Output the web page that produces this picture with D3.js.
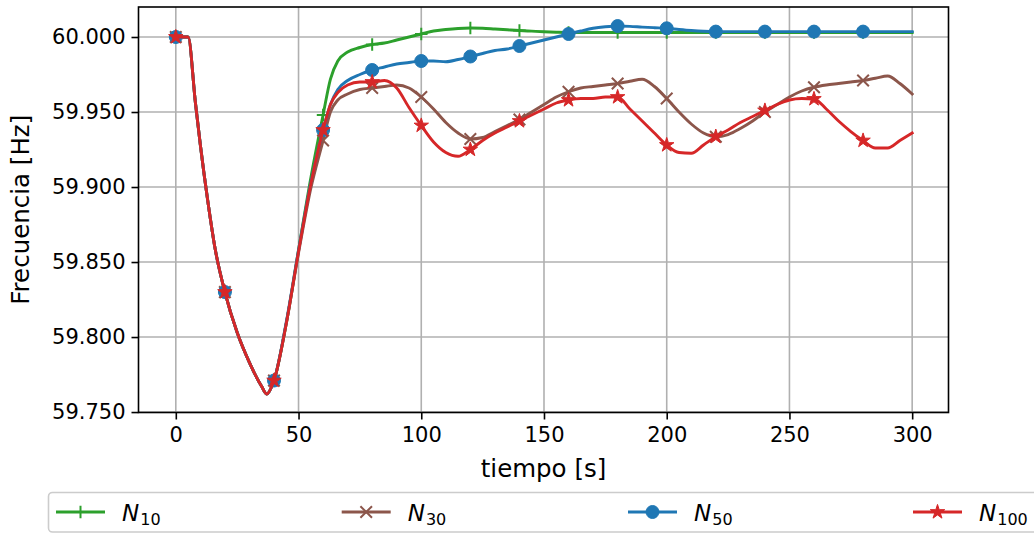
<!DOCTYPE html>
<html>
<head>
<meta charset="utf-8">
<script src="https://cdn.jsdelivr.net/npm/d3@7"></script>
<style>
  body { margin: 0; background: #fff; }
  svg { display: block; }
  text { font-family: "DejaVu Sans", sans-serif; fill: #000; }
</style>
</head>
<body>
<svg id="chart" width="1034" height="533"></svg>
<script>
// Time axis shared by every series (s)
const tiempo = [0, 5, 8, 10, 13, 16, 20, 25, 30, 35, 37, 40, 45, 50, 55,
  60, 63, 66, 70, 75, 80, 85, 90, 95, 100, 105, 110, 115, 120, 125, 130, 135,
  140, 145, 150, 155, 160, 165, 170, 175, 180, 185, 190, 195, 200, 205, 210,
  215, 220, 225, 230, 235, 240, 245, 250, 255, 260, 265, 270, 275, 280, 285,
  290, 295, 300];

// Frequency (Hz) for each case
const n10 = [60.000, 60.000, 59.956, 59.928, 59.891, 59.859, 59.830, 59.803, 59.783, 59.767, 59.762, 59.771, 59.809, 59.858, 59.906,
  59.948, 59.972, 59.984, 59.990, 59.993, 59.995, 59.996, 59.998, 60.000, 60.002, 60.004, 60.005, 60.0057, 60.006, 60.0058, 60.0053, 60.0048,
  60.0043, 60.0039, 60.0035, 60.0032, 60.0030, 60.0030, 60.0030, 60.0030, 60.0030, 60.0030, 60.0030, 60.0030, 60.0030, 60.0030, 60.0030,
  60.0030, 60.0030, 60.0030, 60.0030, 60.0030, 60.0030, 60.0030, 60.0030, 60.0030, 60.0030, 60.0030, 60.0030, 60.0030, 60.0030, 60.0030,
  60.0030, 60.0030, 60.0030];

const n30 = [60.000, 60.000, 59.956, 59.928, 59.891, 59.859, 59.830, 59.803, 59.783, 59.767, 59.762, 59.771, 59.809, 59.856, 59.899,
  59.931, 59.950, 59.958, 59.962, 59.965, 59.966, 59.967, 59.968, 59.966, 59.960, 59.952, 59.943, 59.936, 59.932, 59.933, 59.937, 59.941,
  59.945, 59.950, 59.955, 59.960, 59.9635, 59.966, 59.967, 59.968, 59.969, 59.9705, 59.9718, 59.967, 59.959, 59.950, 59.942,
  59.936, 59.9335, 59.935, 59.939, 59.944, 59.950, 59.955, 59.960, 59.964, 59.9665, 59.968, 59.969, 59.970, 59.971, 59.9725,
  59.974, 59.969, 59.962];

const n50 = [60.000, 60.000, 59.956, 59.928, 59.891, 59.859, 59.830, 59.803, 59.783, 59.767, 59.762, 59.771, 59.810, 59.858, 59.903,
  59.938, 59.955, 59.965, 59.971, 59.975, 59.978, 59.980, 59.982, 59.983, 59.984, 59.984, 59.9835, 59.985, 59.987, 59.989, 59.991, 59.992,
  59.994, 59.996, 59.998, 60.000, 60.002, 60.004, 60.0058, 60.0068, 60.0073, 60.0071, 60.0066, 60.0062, 60.0058, 60.0050, 60.0043,
  60.0038, 60.0036, 60.0036, 60.0036, 60.0036, 60.0036, 60.0036, 60.0036, 60.0036, 60.0036, 60.0036, 60.0036, 60.0036, 60.0036, 60.0036,
  60.0036, 60.0036, 60.0036];

const n100 = [60.000, 60.000, 59.956, 59.928, 59.891, 59.859, 59.830, 59.803, 59.783, 59.767, 59.762, 59.771, 59.809, 59.857, 59.902,
  59.938, 59.955, 59.963, 59.968, 59.970, 59.970, 59.971, 59.966, 59.953, 59.941, 59.930, 59.923, 59.9205, 59.925, 59.931, 59.936, 59.940,
  59.944, 59.948, 59.952, 59.956, 59.958, 59.959, 59.959, 59.960, 59.960, 59.952, 59.944, 59.936, 59.928, 59.923, 59.9225,
  59.928, 59.9336, 59.938, 59.943, 59.947, 59.951, 59.955, 59.958, 59.959, 59.9587, 59.952, 59.944, 59.937, 59.931, 59.926,
  59.926, 59.931, 59.936];

const xTicks = [0, 50, 100, 150, 200, 250, 300];
const yTicks = [59.75, 59.80, 59.85, 59.90, 59.95, 60.00];
const markerStep = 20;

const series = [
  { sub: "10",  values: n10,  color: "#2ca02c", marker: "plus" },
  { sub: "30",  values: n30,  color: "#8c564b", marker: "cross" },
  { sub: "50",  values: n50,  color: "#1f77b4", marker: "circle" },
  { sub: "100", values: n100, color: "#d62728", marker: "star" }
];

const svg = d3.select("#chart");
const plot = { left: 138.5, right: 948.5, top: 7, bottom: 412.5 };

const x = d3.scaleLinear().domain([-15.2, 314.8]).range([plot.left, plot.right]);
const y = d3.scaleLinear().domain([59.7497, 60.02]).range([plot.bottom, plot.top]);

// grid
const grid = svg.append("g");
grid.selectAll("line.gx").data(xTicks).join("line")
  .attr("x1", d => x(d)).attr("x2", d => x(d))
  .attr("y1", plot.top).attr("y2", plot.bottom)
  .attr("stroke", "#b0b0b0").attr("stroke-width", 1.6);
grid.selectAll("line.gy").data(yTicks).join("line")
  .attr("x1", plot.left).attr("x2", plot.right)
  .attr("y1", d => y(d)).attr("y2", d => y(d))
  .attr("stroke", "#b0b0b0").attr("stroke-width", 1.6);

// axes
const xAxis = d3.axisBottom(x).tickValues(xTicks).tickSize(7).tickPadding(8).tickFormat(d3.format("d"));
const yAxis = d3.axisLeft(y).tickValues(yTicks).tickSize(7).tickPadding(6).tickFormat(d3.format(".3f"));

const gx = svg.append("g").attr("transform", `translate(0,${plot.bottom})`).call(xAxis);
const gy = svg.append("g").attr("transform", `translate(${plot.left},0)`).call(yAxis);
[gx, gy].forEach(g => {
  g.select(".domain").remove();
  g.selectAll(".tick line").attr("stroke", "#000").attr("stroke-width", 1.6);
  g.selectAll(".tick text").attr("font-size", 21).attr("font-family", "DejaVu Sans").attr("fill", "#000");
});

// clip for the data
svg.append("defs").append("clipPath").attr("id", "plotclip")
  .append("rect").attr("x", plot.left).attr("y", plot.top)
  .attr("width", plot.right - plot.left).attr("height", plot.bottom - plot.top);

const line = d3.line().curve(d3.curveMonotoneX).x(d => x(d.t)).y(d => y(d.v));

const starPath = (() => {
  const pts = [];
  const R = 7.6, r = R * 0.38;
  for (let i = 0; i < 10; i++) {
    const a = -Math.PI / 2 + i * Math.PI / 5;
    const rad = i % 2 === 0 ? R : r;
    pts.push([rad * Math.cos(a), rad * Math.sin(a)]);
  }
  return "M" + pts.map(p => p.join(",")).join("L") + "Z";
})();

function drawMarker(g, kind, color) {
  if (kind === "plus") {
    g.append("path").attr("d", "M-6.3,0H6.3M0,-6.3V6.3").attr("stroke", color).attr("stroke-width", 2).attr("fill", "none");
  } else if (kind === "cross") {
    g.append("path").attr("d", "M-5.8,-5.8L5.8,5.8M-5.8,5.8L5.8,-5.8").attr("stroke", color).attr("stroke-width", 2).attr("fill", "none");
  } else if (kind === "circle") {
    g.append("circle").attr("r", 6.5).attr("fill", color).attr("stroke", color).attr("stroke-width", 1);
  } else if (kind === "star") {
    g.append("path").attr("d", starPath).attr("fill", color).attr("stroke", color).attr("stroke-width", 1).attr("stroke-linejoin", "miter");
  }
}

const dataG = svg.append("g").attr("clip-path", "url(#plotclip)");
series.forEach(s => {
  const pts = tiempo.map((t, i) => ({ t, v: s.values[i] }));
  dataG.append("path").datum(pts)
    .attr("d", line).attr("fill", "none")
    .attr("stroke", s.color).attr("stroke-width", 2.9)
    .attr("stroke-linejoin", "round").attr("stroke-linecap", "square");
  pts.filter(p => p.t % markerStep === 0 && p.t < 300).forEach(p => {
    const mg = dataG.append("g").attr("transform", `translate(${x(p.t)},${y(p.v)})`);
    drawMarker(mg, s.marker, s.color);
  });
});

// frame
svg.append("rect")
  .attr("x", plot.left).attr("y", plot.top)
  .attr("width", plot.right - plot.left).attr("height", plot.bottom - plot.top)
  .attr("fill", "none").attr("stroke", "#000").attr("stroke-width", 1.6);

// axis titles
svg.append("text")
  .attr("x", (plot.left + plot.right) / 2).attr("y", 477)
  .attr("text-anchor", "middle").attr("font-size", 24.5)
  .text("tiempo [s]");
svg.append("text")
  .attr("transform", `translate(29,${(plot.top + plot.bottom) / 2}) rotate(-90)`)
  .attr("text-anchor", "middle").attr("font-size", 24.5)
  .text("Frecuencia [Hz]");

// legend
const leg = svg.append("g");
leg.append("rect")
  .attr("x", 48.5).attr("y", 492.5).attr("width", 1010).attr("height", 39.5)
  .attr("rx", 4).attr("fill", "#fff").attr("fill-opacity", 0.8)
  .attr("stroke", "#cccccc").attr("stroke-width", 1.6);

const legX = [56, 341.7, 628, 913];
const legY = 512;
series.forEach((s, i) => {
  const g = leg.append("g").attr("transform", `translate(${legX[i]},${legY})`);
  g.append("line").attr("x1", 0).attr("x2", 49).attr("y1", 0).attr("y2", 0)
    .attr("stroke", s.color).attr("stroke-width", 2.9);
  const mg = g.append("g").attr("transform", "translate(24.5,0)");
  drawMarker(mg, s.marker, s.color);
  const t = g.append("text").attr("x", 66).attr("y", 8.5).attr("font-size", 23);
  t.append("tspan").attr("font-style", "italic").text("N");
  t.append("tspan").attr("font-size", 16).attr("dy", 4.5).attr("dx", 1).text(s.sub);
});
</script>
</body>
</html>
